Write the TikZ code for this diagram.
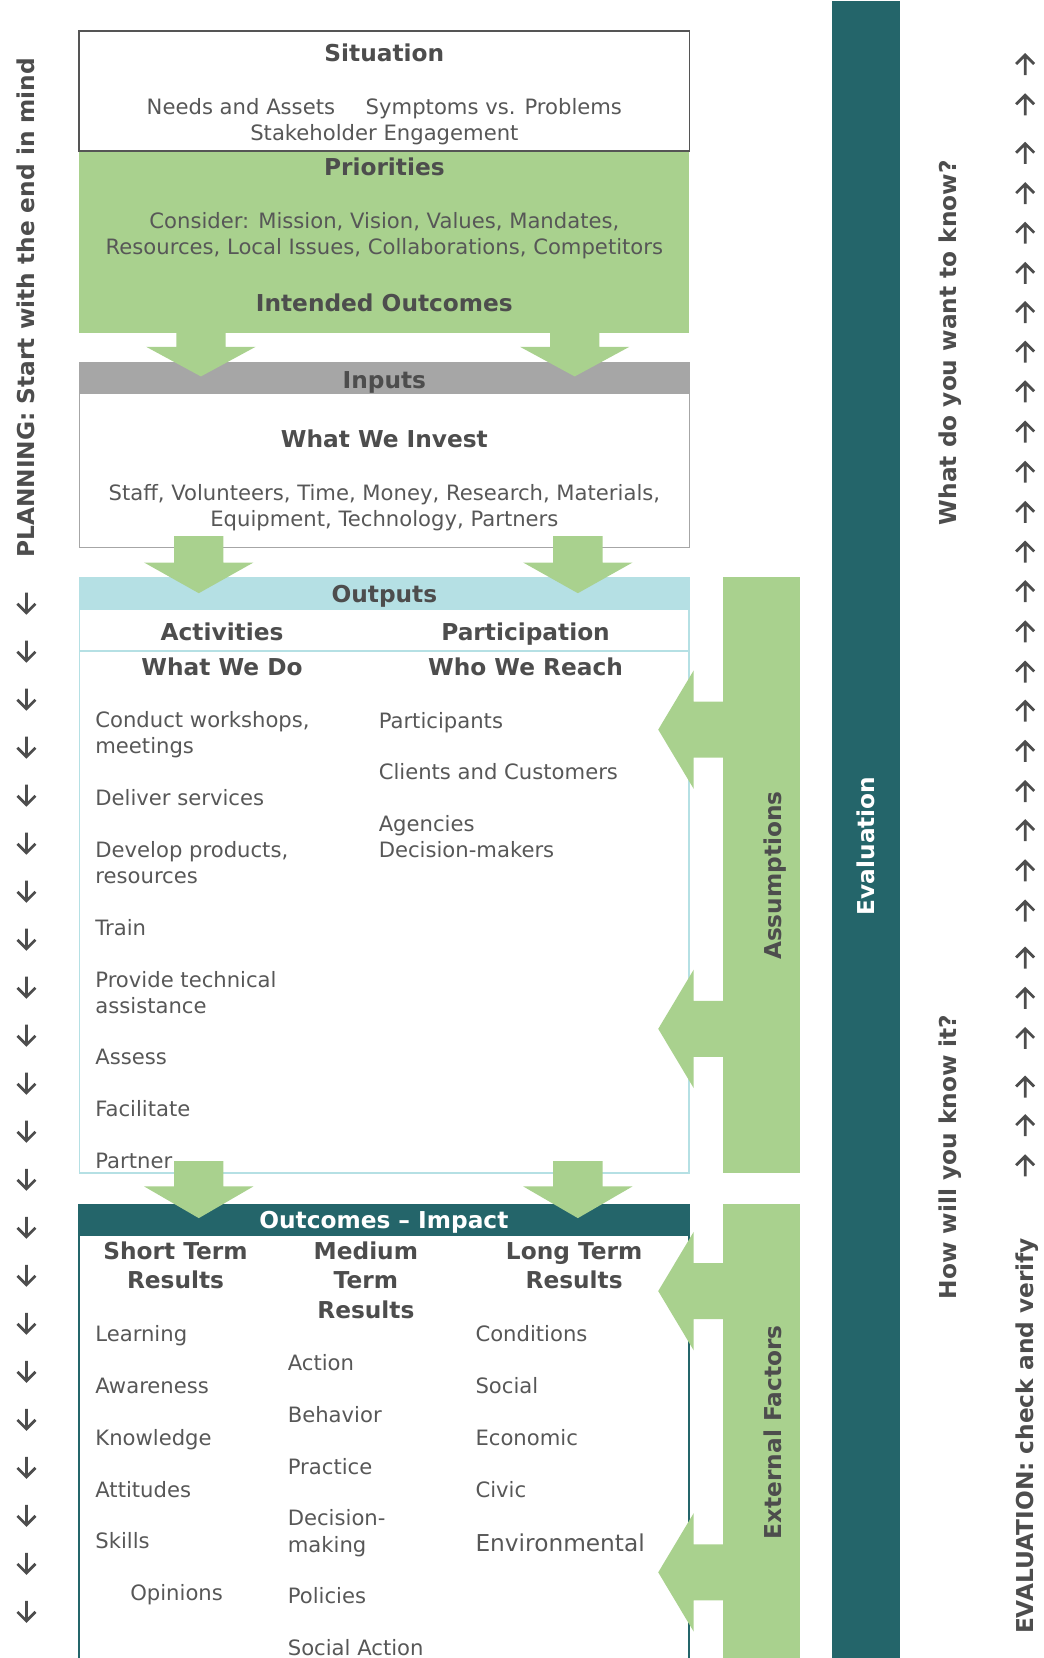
\documentclass[tikz,border=0pt]{standalone}
\usepackage{fontspec}
\setmainfont{DejaVu Sans}

\definecolor{vert}{HTML}{A9D18E}
\definecolor{sarcelle}{HTML}{24656A}
\definecolor{bleuclair}{HTML}{B5E0E4}
\definecolor{grisbande}{HTML}{A6A6A6}
\definecolor{grisbord}{HTML}{555555}
\definecolor{grisfonce}{HTML}{4D4D4D}
\definecolor{gristexte}{HTML}{575757}

\tikzset{
  corps/.style={font=\fontsize{20}{24}\selectfont, text=gristexte, inner sep=0pt, anchor=base},
  liste/.style={corps, anchor=base west},
  titre/.style={font=\fontsize{22}{26}\selectfont\bfseries, text=grisfonce, inner sep=0pt, anchor=base},
  vertical/.style={titre, rotate=90},
  marge/.style={draw=grisfonce, line width=2.6pt, line join=miter},
}

\begin{document}
\begin{tikzpicture}[x=1pt,y=-1pt]
        \useasboundingbox (0,0) rectangle (987,1568);

        % bande evaluation a droite
        \fill[sarcelle] (787,1) rectangle (851,1568);

        % coins des cadres
        \coordinate (sitLeft) at (75,29);     \coordinate (sitRight) at (652,142.5);
        \coordinate (prioLeft) at (75,142.5); \coordinate (prioRight) at (652,315);
        \coordinate (inLeft) at (75,343);     \coordinate (inRight) at (652,518);
        \coordinate (outLeft) at (75,546);    \coordinate (outRight) at (651.5,1109.5);
        \coordinate (resLeft) at (75,1138.5); \coordinate (resRight) at (651.5,1568);

        % situation et priorites
        \fill[vert] (prioLeft) rectangle (prioRight);
        \draw[fill=white, draw=grisbord, line width=1.6pt] (sitLeft) rectangle (sitRight);

        % inputs
        \fill[grisbande] (inLeft) rectangle (652,373);
        \draw[draw=grisbande, line width=1.4pt] (inLeft) rectangle (inRight);

        % outputs
        \fill[bleuclair] (outLeft) rectangle (651.5,577);
        \draw[draw=bleuclair, line width=1.4pt] (outLeft) rectangle (outRight);
        \draw[draw=bleuclair, line width=1.4pt] (75,615.5) -- (651.5,615.5);

        % outcomes (le bas sort de la page)
        \fill[sarcelle] (resLeft) rectangle (651.5,1168.5);
        \draw[draw=sarcelle, line width=1.6pt] (resLeft) -- (75,1568);
        \draw[draw=sarcelle, line width=1.6pt] (651.5,1138.5) -- (resRight);

        % assumptions et external factors
        \fill[vert] (684,546) rectangle (757,1109.5);
        \fill[vert] (684,1138.5) rectangle (757,1568);
        \foreach \c in {690,973,1221,1487} {
            \fill[vert] (685,\c-26.5) -- (656,\c-26.5) -- (656,\c-56) -- (622.5,\c)
                -- (656,\c+56) -- (656,\c+26.5) -- (685,\c+26.5) -- cycle;
        }

        % grosses fleches entre les cadres
        \foreach \cx/\top/\mid/\tip in {190/314/328/356, 543.5/314/328/356,
                188/507/532/561, 546.5/507/532/561,
                188/1098/1122/1152, 546.5/1098/1122/1152} {
            \fill[vert] (\cx-23.3,\top) -- (\cx+23.3,\top) -- (\cx+23.3,\mid) -- (\cx+51.7,\mid)
                -- (\cx,\tip) -- (\cx-51.7,\mid) -- (\cx-23.3,\mid) -- cycle;
        }

        % textes des cadres
        \node[titre] (situation) at (363.5,58) {Situation};
        \node[corps] (needs) at (363.5,108) {Needs and Assets\hspace{29pt}Symptoms vs. Problems};
        \node[corps] (stake) at (363.5,132.5) {Stakeholder Engagement};
        \node[titre] (priorities) at (363.5,166) {Priorities};
        \node[corps] (consider) at (363.5,216.5) {Consider: Mission, Vision, Values, Mandates,};
        \node[corps] (resources) at (363.5,240.5) {Resources, Local Issues, Collaborations, Competitors};
        \node[titre] (intended) at (363.5,294.5) {Intended Outcomes};

        \node[titre] (inputs) at (363.5,367) {Inputs};
        \node[titre] (invest) at (363.5,423) {What We Invest};
        \node[corps] (staff) at (363.5,473) {Staff, Volunteers, Time, Money, Research, Materials,};
        \node[corps] (equip) at (363.5,497.5) {Equipment, Technology, Partners};

        \node[titre] (outputs) at (363.5,570) {Outputs};
        \node[titre] (activities) at (210,605.5) {Activities};
        \node[titre] (participation) at (497,605.5) {Participation};
        \node[titre] (wedo) at (210,639) {What We Do};
        \node[titre] (wereach) at (497,639) {Who We Reach};

        \foreach \t/\y [count=\i] in {{Conduct workshops,}/688, meetings/712.5, Deliver services/762,
                {Develop products,}/810.5, resources/835.5, Train/884.5, Provide technical/933.5,
                assistance/958.5, Assess/1007, Facilitate/1055.5, Partner/1105}
            \node[liste] (act\i) at (90,\y) {\t};
        \foreach \t/\y [count=\i] in {Participants/689, Clients and Customers/737.5,
                Agencies/786.5, Decision-makers/810.5}
            \node[liste] (part\i) at (358,\y) {\t};

        \node[titre, text=white] (outcomes) at (363,1162) {Outcomes – Impact};
        \node[titre] (short1) at (166,1191) {Short Term};
        \node[titre] (short2) at (166,1218.5) {Results};
        \node[titre] (medium1) at (346,1191) {Medium};
        \node[titre] (medium2) at (346,1218.5) {Term};
        \node[titre] (medium3) at (346,1246.5) {Results};
        \node[titre] (long1) at (543,1191) {Long Term};
        \node[titre] (long2) at (543,1218.5) {Results};

        \foreach \t/\y [count=\i] in {Learning/1269, Awareness/1318, Knowledge/1367,
                Attitudes/1416, Skills/1464}
            \node[liste] (st\i) at (90,\y) {\t};
        \node[liste] (st6) at (123,1514) {Opinions};
        \foreach \t/\y [count=\i] in {Action/1296, Behavior/1345.5, Practice/1394.5,
                Decision-/1443, making/1468, Policies/1516, Social Action/1565.5}
            \node[liste] (mt\i) at (272,\y) {\t};
        \foreach \t/\y [count=\i] in {Conditions/1269, Social/1318, Economic/1367, Civic/1416}
            \node[liste] (lt\i) at (449.5,\y) {\t};
        \node[liste, font=\fontsize{22}{26}\selectfont] (lt5) at (449.5,1467) {Environmental};

        % textes verticaux
        \node[vertical] (assumptions) at (739,828) {Assumptions};
        \node[vertical] (external) at (739,1354.5) {External Factors};
        \node[vertical, text=white] (evaluation) at (827,800) {Evaluation};
        \node[vertical] (wantknow) at (905,324) {What do you want to know?};
        \node[vertical] (howknow) at (905,1094) {How will you know it?};
        \node[vertical] (planning) at (33,291) {PLANNING: Start with the end in mind};
        \node[vertical] (checkverify) at (977,1358) {EVALUATION: check and verify};

        % petites fleches des marges
        \foreach \k in {0,...,21} {
            \coordinate (dn\k) at (25,570+45.4*\k);
            \draw[marge] (dn\k) ++(0,-9.5) -- ++(0,19) ++(-8.5,-8.5) -- ++(8.5,8.5) -- ++(8.5,-8.5);
        }
        \foreach \y [count=\i] in {61.5,99.6,145.4,183.6,221,259,296,333.5,371,409,447,485,
                522.5,560,598,636,673,711,749,786,824,862,906.5,944.5,982.5,1028.5,1065,1103} {
            \coordinate (up\i) at (969.5,\y);
            \draw[marge] (up\i) ++(0,9.5) -- ++(0,-19) ++(-8.5,8.5) -- ++(8.5,-8.5) -- ++(8.5,8.5);
        }
\end{tikzpicture}
\end{document}
